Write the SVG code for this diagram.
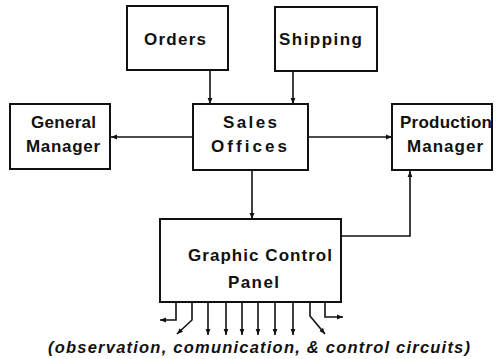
<svg xmlns="http://www.w3.org/2000/svg" width="496" height="359" viewBox="0 0 496 359">
  <style>
    .box { fill: #fff; stroke: #111; stroke-width: 2; }
    .lbl { font-family: "Liberation Sans", Arial, sans-serif; font-weight: bold; font-size: 17px; fill: #111; text-anchor: middle; }
    .wire { fill: none; stroke: #111; stroke-width: 1.6; }
    .cap { font-family: "Liberation Sans", Arial, sans-serif; font-weight: bold; font-style: italic; font-size: 16.5px; fill: #111; }
  </style>
  <defs>
    <marker id="arr" viewBox="0 0 10 10" refX="10" refY="5" markerWidth="6" markerHeight="6" orient="auto" markerUnits="userSpaceOnUse">
      <path d="M0,1 L10,5 L0,9 Z" fill="#111"/>
    </marker>
  </defs>
  <rect width="496" height="359" fill="#fff"/>

  <g id="orders">
    <rect class="box" x="127" y="6" width="101" height="64"/>
    <text class="lbl" x="175" y="45" textLength="62" lengthAdjust="spacing">Orders</text>
  </g>
  <g id="shipping">
    <rect class="box" x="275" y="7" width="102" height="64"/>
    <text class="lbl" x="320.5" y="45" textLength="83" lengthAdjust="spacing">Shipping</text>
  </g>
  <g id="general-manager">
    <rect class="box" x="10" y="104" width="100" height="65"/>
    <text class="lbl" x="63.5" y="128" textLength="65" lengthAdjust="spacing">General</text>
    <text class="lbl" x="63" y="152" textLength="74" lengthAdjust="spacing">Manager</text>
  </g>
  <g id="sales-offices">
    <rect class="box" x="193" y="104" width="115" height="66"/>
    <text class="lbl" x="250" y="128" textLength="54" lengthAdjust="spacing">Sales</text>
    <text class="lbl" x="249" y="152" textLength="76" lengthAdjust="spacing">Offices</text>
  </g>
  <g id="production-manager">
    <rect class="box" x="392" y="104" width="100" height="66"/>
    <text class="lbl" x="446" y="128" textLength="92" lengthAdjust="spacing">Production</text>
    <text class="lbl" x="445" y="152" textLength="76" lengthAdjust="spacing">Manager</text>
  </g>
  <g id="graphic-control-panel">
    <rect class="box" x="160" y="219" width="181" height="83"/>
    <text class="lbl" x="260" y="261" textLength="144" lengthAdjust="spacing">Graphic Control</text>
    <text class="lbl" x="253.5" y="288" textLength="51" lengthAdjust="spacing">Panel</text>
  </g>

  <g id="connectors">
    <line class="wire" x1="210" y1="70" x2="210" y2="104" marker-end="url(#arr)"/>
    <line class="wire" x1="293" y1="71" x2="293" y2="104" marker-end="url(#arr)"/>
    <line class="wire" x1="193" y1="137" x2="111" y2="137" marker-end="url(#arr)"/>
    <line class="wire" x1="308" y1="137" x2="392" y2="137" marker-end="url(#arr)"/>
    <line class="wire" x1="252" y1="170" x2="252" y2="219" marker-end="url(#arr)"/>
    <polyline class="wire" points="341,236 410,236 410,171" marker-end="url(#arr)"/>

    <!-- output circuits fanning out below the panel -->
    <polyline class="wire" points="176,302 176,320 160,320" marker-end="url(#arr)"/>
    <polyline class="wire" points="192,302 192,320 177,334" marker-end="url(#arr)"/>
    <line class="wire" x1="208" y1="302" x2="208" y2="335" marker-end="url(#arr)"/>
    <line class="wire" x1="226" y1="302" x2="226" y2="335" marker-end="url(#arr)"/>
    <line class="wire" x1="242" y1="302" x2="242" y2="335" marker-end="url(#arr)"/>
    <line class="wire" x1="258" y1="302" x2="258" y2="335" marker-end="url(#arr)"/>
    <line class="wire" x1="275" y1="302" x2="275" y2="335" marker-end="url(#arr)"/>
    <line class="wire" x1="293" y1="302" x2="293" y2="335" marker-end="url(#arr)"/>
    <polyline class="wire" points="310,302 310,316 325,334" marker-end="url(#arr)"/>
    <polyline class="wire" points="325,302 325,317 343,317" marker-end="url(#arr)"/>
  </g>

  <text class="cap" x="48" y="353" textLength="422" lengthAdjust="spacing">(observation, comunication, &amp; control circuits)</text>
</svg>
